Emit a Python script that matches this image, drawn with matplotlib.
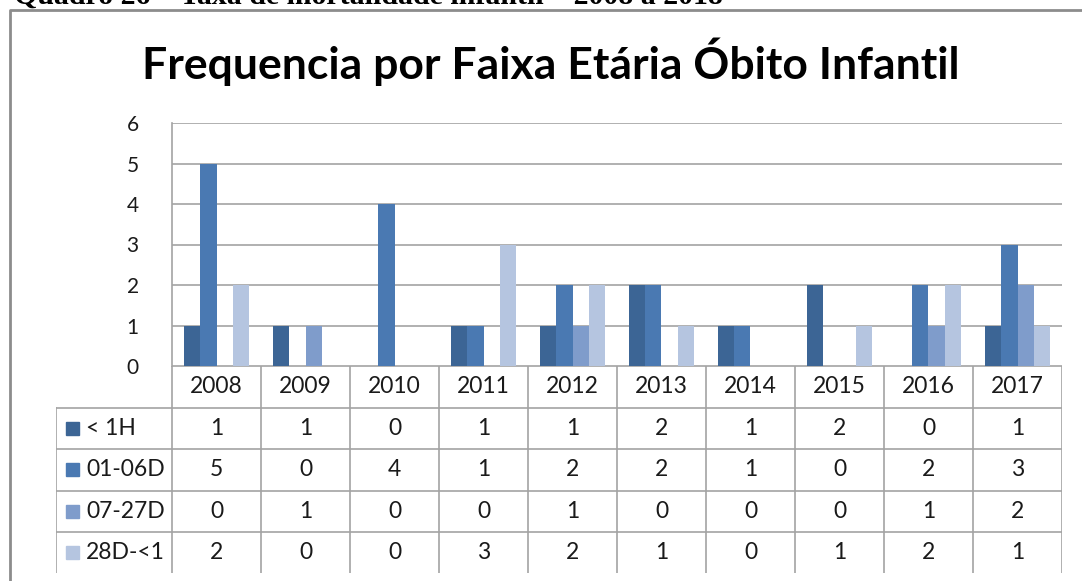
import numpy as np
import matplotlib
matplotlib.use("Agg")
import matplotlib.pyplot as plt
from matplotlib.patches import Rectangle

years = ["2008", "2009", "2010", "2011", "2012", "2013", "2014", "2015", "2016", "2017"]
series = ["< 1H", "01-06D", "07-27D", "28D-<1"]
lt_1h = [1, 1, 0, 1, 1, 2, 1, 2, 0, 1]
d01_06 = [5, 0, 4, 1, 2, 2, 1, 0, 2, 3]
d07_27 = [0, 1, 0, 0, 1, 0, 0, 0, 1, 2]
d28_1 = [2, 0, 0, 3, 2, 1, 0, 1, 2, 1]
values = [lt_1h, d01_06, d07_27, d28_1]
colors = ["#3c6595", "#4a79b2", "#7f9ccb", "#b5c5e0"]

W, H = 1082, 581
fig = plt.figure(figsize=(W / 100, H / 100), dpi=100)
font = "Lato"
grid_c = "#a3a3a3"
txt_c = "#1a1a1a"


def fx(px):
    return px / W


def fy(py):
    return 1 - py / H


# caption, clipped at the top like in the source page
fig.text(fx(14), fy(4), "Quadro 26 – Taxa de mortalidade infantil – 2008 a 2018",
         family="Liberation Serif", weight="bold", fontsize=21.5, va="baseline", ha="left")

# outer frame
frame = plt.Line2D([fx(10), fx(10), fx(1090)], [fy(590), fy(10), fy(10)],
                   transform=fig.transFigure, color="#8c8c8c", lw=2)
fig.add_artist(frame)

fig.text(fx(551), fy(62), "Frequencia por Faixa Etária Óbito Infantil",
         family=font, weight="bold", fontsize=32, ha="center", va="center")

# bar area
left, right, top, bottom = 172, 1062, 123, 366
ax = fig.add_axes([fx(left), fy(bottom), fx(right - left), (bottom - top) / H])
n = len(years)
x = np.arange(n)
bw = 0.185
for i, (vals, c) in enumerate(zip(values, colors)):
    ax.bar(x + (i - 1.5) * bw, vals, width=bw, color=c, zorder=3)
ax.set_xlim(-0.5, n - 0.5)
ax.set_ylim(0, 6)
ax.set_yticks(range(7))
ax.set_yticklabels([str(v) for v in range(7)], family=font, fontsize=15, color=txt_c)
ax.tick_params(axis="y", length=0, pad=24)
ax.tick_params(axis="x", length=0, labelbottom=False)
ax.grid(axis="y", color=grid_c, lw=1.2, zorder=0)
for s in ["top", "right", "bottom"]:
    ax.spines[s].set_visible(False)
ax.spines["left"].set_color(grid_c)
ax.spines["left"].set_linewidth(1.2)

# data table under the chart
tab_left, row_h = 56, 41.5
tax = fig.add_axes([fx(tab_left), fy(573), fx(right - tab_left), (573 - bottom) / H])
tax.set_xlim(tab_left, right)
tax.set_ylim(573, bottom)
tax.axis("off")
col_w = (right - left) / n
line_kw = dict(color=grid_c, lw=1.2)

tax.plot([left, right], [bottom, bottom], **line_kw)
for r in range(1, 6):
    y = bottom + r * row_h
    tax.plot([tab_left, right], [y, y], **line_kw)
tax.plot([tab_left, tab_left], [bottom + row_h, bottom + 5 * row_h], **line_kw)
for c in range(n + 1):
    xx = left + c * col_w
    tax.plot([xx, xx], [bottom, bottom + 5 * row_h], **line_kw)

for c, yr in enumerate(years):
    tax.text(left + (c + 0.5) * col_w, bottom + 0.5 * row_h, yr,
             family=font, fontsize=16.5, ha="center", va="center", color=txt_c)
for r, (name, vals, colr) in enumerate(zip(series, values, colors)):
    yc = bottom + (r + 1.5) * row_h
    tax.add_patch(Rectangle((66, yc - 6.5), 13, 13, color=colr))
    tax.text(86, yc, name, family=font, fontsize=16.5, ha="left", va="center", color=txt_c)
    for c, v in enumerate(vals):
        tax.text(left + (c + 0.5) * col_w, yc, str(v),
                 family=font, fontsize=16.5, ha="center", va="center", color=txt_c)

fig.savefig("out.png", dpi=100)
